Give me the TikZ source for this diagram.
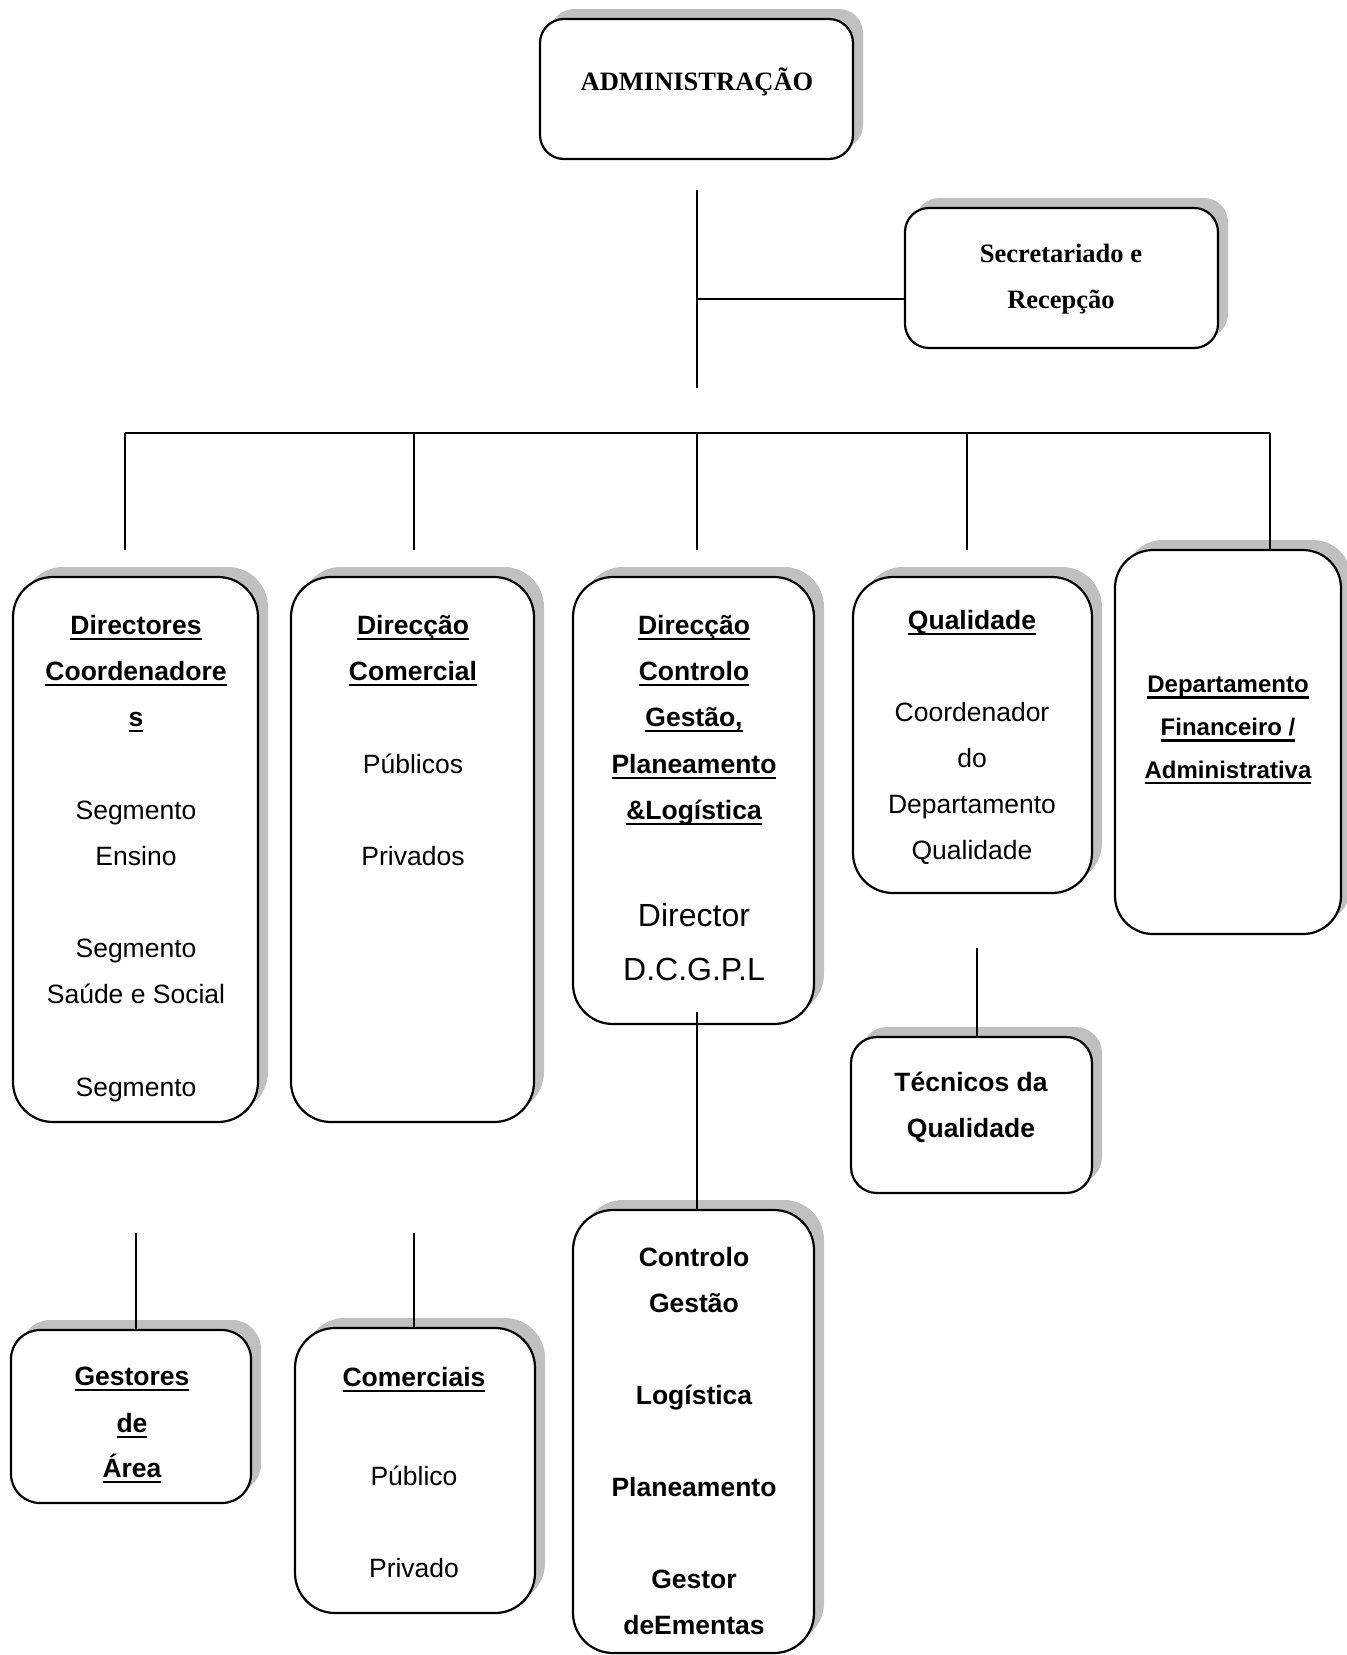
\documentclass[tikz,border=0pt]{standalone}
\usepackage{fontspec}
\setmainfont{Liberation Serif}
\newfontfamily\arialf{Liberation Sans}
\usetikzlibrary{shadows}
\definecolor{shadowgrey}{RGB}{192,192,192}
\newsavebox\ulbox
\newcommand\uln[1]{\sbox\ulbox{#1}\rlap{\rule[-6.2pt]{\wd\ulbox}{2.7pt}}\usebox\ulbox}
\begin{document}
\begin{tikzpicture}[x=1pt,y=-1pt,
  box/.style={draw, line width=2.2pt, fill=white, inner sep=0pt,
    drop shadow={shadow xshift=10pt, shadow yshift=10pt, fill=shadowgrey, opacity=1}},
  conn/.style={line width=2pt},
  tl/.style={anchor=base, inner sep=0pt},
  fTa/.style={font=\bfseries\fontsize{26.5}{30}\selectfont},
  fT/.style={font=\bfseries\fontsize{26.5}{30}\selectfont},
  fB/.style={font=\arialf\bfseries\fontsize{26.5}{30}\selectfont},
  fN/.style={font=\arialf\fontsize{26.5}{30}\selectfont},
  fL/.style={font=\arialf\fontsize{32}{36}\selectfont},
  fS/.style={font=\arialf\bfseries\fontsize{24}{28}\selectfont}]
\useasboundingbox (0,0) rectangle (1347,1655);

% boxes
\node[box, rounded corners=24pt, minimum width=313pt, minimum height=140pt] (admin) at (696.5,89) {};
\node[box, rounded corners=24pt, minimum width=313pt, minimum height=140pt] (secr) at (1061.5,278) {};
\node[box, rounded corners=40pt, minimum width=245pt, minimum height=545pt] (dir) at (135.5,849.5) {};
\node[box, rounded corners=40pt, minimum width=243pt, minimum height=545pt] (com) at (412.5,849.5) {};
\node[box, rounded corners=40pt, minimum width=241pt, minimum height=447pt] (ctl) at (693.5,800.5) {};
\node[box, rounded corners=40pt, minimum width=239pt, minimum height=316pt] (qual) at (972.5,735) {};
\node[box, rounded corners=38pt, minimum width=226pt, minimum height=384pt] (dept) at (1228,742) {};
\node[box, rounded corners=26pt, minimum width=241pt, minimum height=156pt] (tec) at (971.5,1115) {};
\node[box, rounded corners=29pt, minimum width=240pt, minimum height=173pt] (gest) at (131,1416.5) {};
\node[box, rounded corners=40pt, minimum width=240pt, minimum height=285pt] (coms) at (415,1470.5) {};
\node[box, rounded corners=40pt, minimum width=241pt, minimum height=443pt] (cg) at (693.5,1431.5) {};

% connector end points
\coordinate (trunkTop) at (697,190);
\coordinate (trunkBot) at (697,388);
\coordinate (trunkMid) at (697,299);
\coordinate (busL) at (125,433);
\coordinate (busA) at (414,433);
\coordinate (busB) at (697,433);
\coordinate (busC) at (967,433);
\coordinate (busR) at (1270,433);
\coordinate (endL) at (125,550);
\coordinate (endA) at (414,550);
\coordinate (endB) at (697,550);
\coordinate (endC) at (967,550);
\coordinate (qt) at (977,948);
\coordinate (cgs) at (697,1012);
\coordinate (dg) at (136,1233);
\coordinate (cc) at (414,1233);

% connectors
\draw[conn] (trunkTop) -- (trunkBot);
\draw[conn] (trunkMid) -- (trunkMid -| secr.west);
\draw[conn] (busL) -- (busR);
\draw[conn] (busL) -- (endL);
\draw[conn] (busA) -- (endA);
\draw[conn] (busB) -- (endB);
\draw[conn] (busC) -- (endC);
\draw[conn] (busR) -- (busR |- dept.north);
\draw[conn] (qt) -- (qt |- tec.north);
\draw[conn] (cgs) -- (cgs |- cg.north);
\draw[conn] (dg) -- (dg |- gest.north);
\draw[conn] (cc) -- (cc |- coms.north);

% texts
\node[tl,fTa] (tAdmin) at (697,90) {ADMINISTRAÇÃO};
\node[tl,fT] (tSec1) at (1061,262) {Secretariado e};
\node[tl,fT] (tSec2) at (1061,308) {Recepção};

\node[tl,fB] (tDir1) at (136,634) {\uln{Directores}};
\node[tl,fB] (tDir2) at (136,680) {\uln{Coordenadore}};
\node[tl,fB] (tDir3) at (136,726) {\uln{s}};
\node[tl,fN] (tDir4) at (136,819) {Segmento};
\node[tl,fN] (tDir5) at (136,865) {Ensino};
\node[tl,fN] (tDir6) at (136,957) {Segmento};
\node[tl,fN] (tDir7) at (136,1003) {Saúde e Social};
\node[tl,fN] (tDir8) at (136,1096) {Segmento};

\node[tl,fB] (tCom1) at (413,634) {\uln{Direcção}};
\node[tl,fB] (tCom2) at (413,680) {\uln{Comercial}};
\node[tl,fN] (tCom3) at (413,773) {Públicos};
\node[tl,fN] (tCom4) at (413,865) {Privados};

\node[tl,fB] (tCtl1) at (694,634) {\uln{Direcção}};
\node[tl,fB] (tCtl2) at (694,680) {\uln{Controlo}};
\node[tl,fB] (tCtl3) at (694,726) {\uln{Gestão,}};
\node[tl,fB] (tCtl4) at (694,773) {\uln{Planeamento}};
\node[tl,fB] (tCtl5) at (694,819) {\uln{\&Logística}};
\node[tl,fL] (tCtl6) at (694,926) {Director};
\node[tl,fL] (tCtl7) at (694,980) {D.C.G.P.L};

\node[tl,fB] (tQual1) at (972,629) {\uln{Qualidade}};
\node[tl,fN] (tQual2) at (972,721) {Coordenador};
\node[tl,fN] (tQual3) at (972,767) {do};
\node[tl,fN] (tQual4) at (972,813) {Departamento};
\node[tl,fN] (tQual5) at (972,859) {Qualidade};

\node[tl,fS] (tDept1) at (1228,692.5) {\uln{Departamento}};
\node[tl,fS] (tDept2) at (1228,735.5) {\uln{Financeiro /}};
\node[tl,fS] (tDept3) at (1228,778) {\uln{Administrativa}};

\node[tl,fB] (tTec1) at (971,1091) {Técnicos da};
\node[tl,fB] (tTec2) at (971,1137) {Qualidade};

\node[tl,fB] (tGest1) at (132,1385) {\uln{Gestores}};
\node[tl,fB] (tGest2) at (132,1432) {\uln{de}};
\node[tl,fB] (tGest3) at (132,1477) {\uln{Área}};

\node[tl,fB] (tComs1) at (414,1386) {\uln{Comerciais}};
\node[tl,fN] (tComs2) at (414,1485) {Público};
\node[tl,fN] (tComs3) at (414,1577) {Privado};

\node[tl,fB] (tCg1) at (694,1266) {Controlo};
\node[tl,fB] (tCg2) at (694,1312) {Gestão};
\node[tl,fB] (tCg3) at (694,1404) {Logística};
\node[tl,fB] (tCg4) at (694,1496) {Planeamento};
\node[tl,fB] (tCg5) at (694,1588) {Gestor};
\node[tl,fB] (tCg6) at (694,1634) {deEmentas};
\end{tikzpicture}
\end{document}
